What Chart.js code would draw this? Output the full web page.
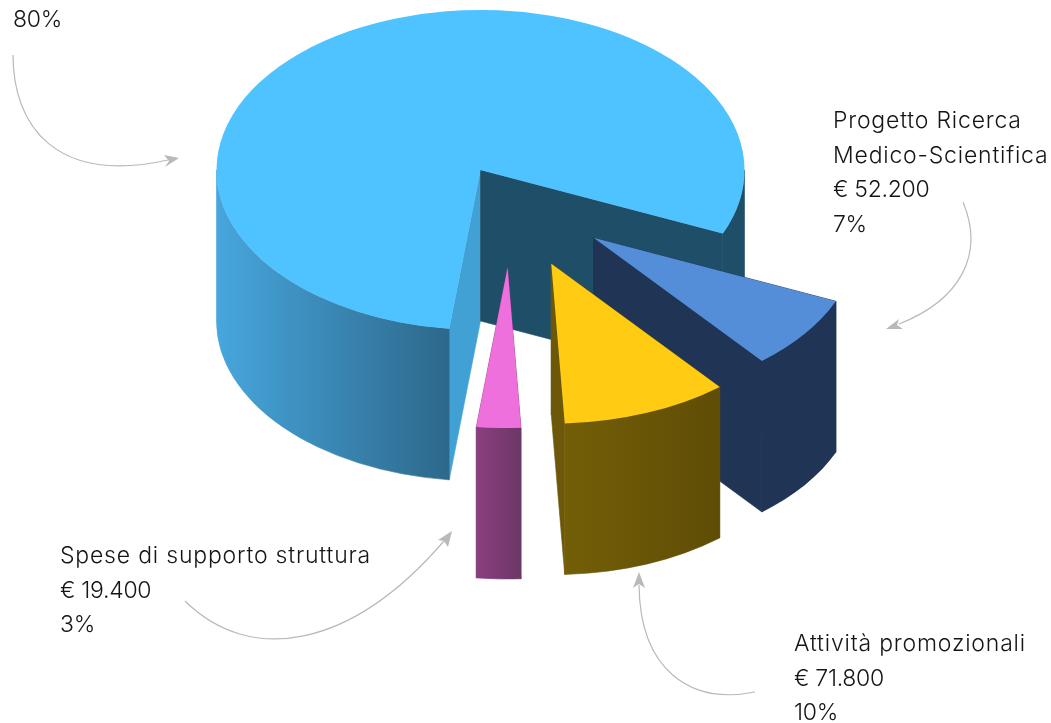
<!DOCTYPE html>
<html>
<head>
<meta charset="utf-8">
<script src="https://cdn.jsdelivr.net/npm/chart.js@4"></script>
<style>
  html, body { margin: 0; padding: 0; background: #fff; overflow: hidden; }
  #wrap { position: relative; width: 1051px; height: 723px; }
  .note { position: absolute; font-family: "Inter", sans-serif; font-weight: 300; font-size: 23px;
          line-height: 34.5px; color: #151515; white-space: nowrap; }
  .note .words { letter-spacing: 0.8px; }
  .note .nums { letter-spacing: -0.3px; }
</style>
</head>
<body>
<div id="wrap">
  <canvas id="pie" width="1051" height="723"></canvas>
</div>
<script>
// data
const categories = ['Altre spese', 'Progetto Ricerca Medico-Scientifica', 'Attività promozionali', 'Spese di supporto struttura'];
// shares as the slices are drawn in the picture, the printed figures are rounded (80, 7, 10, 3)
const sliceShares = [79.6, 7.5, 10.2, 2.7];
const noteLines = [
  ['80%'],
  ['Progetto Ricerca', 'Medico-Scientifica', '€ 52.200', '7%'],
  ['Attività promozionali', '€ 71.800', '10%'],
  ['Spese di supporto struttura', '€ 19.400', '3%']
];

// look of the slices
const topColors = ['#4FC3FF', '#548DD8', '#FFCB13', '#EE70DC'];
const wallColors = [['#47A6DD', '#2D688A'], ['#203555', '#203555'], ['#735E07', '#5F4D06'], ['#8A3F7F', '#6C3766']];
const startFaceColors = ['#42A1D4', '#203555', '#6B5708', '#8A3F7F'];
const endFaceColors = ['#1F4F68', '#203555', '#6C5808', '#8A3F7F'];
const BACK_WALL = '#1F4F68';

// where each slice is pulled out to, in px on the flat pie, and towards which direction
const explodeDist = [0, 159, 170, 164];
const explodeDir = [0, 44.7, 65.4, 80.5];

const PIE_X = 480.5, PIE_Y = 170, RX = 264, RY = 160, DEPTH = 151;

const notePos = [[13, 2], [833, 103], [794, 626], [60, 538]];
const arrows = [
  { line: 'M13 55 C13 125 55 185 168 160', head: 'M179 158 L164 155 L169 161 L165 167 Z' },
  { line: 'M963 202 C985 255 960 300 899 324', head: 'M886 329 L899 319 L897 325 L903 329 Z' },
  { line: 'M755 692 C690 705 640 670 639 585', head: 'M639 572 L633 588 L639 584 L645 588 Z' },
  { line: 'M185 601 C250 665 350 650 444 541', head: 'M452 531 L438 540 L444 541 L448 547 Z' }
];

const wrap = document.getElementById('wrap');
noteLines.forEach((lines, i) => {
  const div = document.createElement('div');
  div.className = 'note';
  div.style.left = notePos[i][0] + 'px';
  div.style.top = notePos[i][1] + 'px';
  lines.forEach((line) => {
    const row = document.createElement('div');
    row.className = /[a-z]/.test(line) ? 'words' : 'nums';
    row.textContent = line;
    div.appendChild(row);
  });
  wrap.appendChild(div);
});

function rim(ox, oy, a, drop) {
  return [ox + RX * Math.cos(a), oy + RY * Math.sin(a) + drop];
}

function paint(ctx, color) {
  // thin stroke of the same colour hides the seams between the pieces
  ctx.fillStyle = color;
  ctx.strokeStyle = color;
  ctx.lineWidth = 0.6;
  ctx.fill();
  ctx.stroke();
}

function face(ctx, ox, oy, a, color) {
  const p = rim(ox, oy, a, 0);
  ctx.beginPath();
  ctx.moveTo(ox, oy);
  ctx.lineTo(p[0], p[1]);
  ctx.lineTo(p[0], p[1] + DEPTH);
  ctx.lineTo(ox, oy + DEPTH);
  ctx.closePath();
  paint(ctx, color);
}

function outerWall(ctx, ox, oy, a0, a1, fill) {
  ctx.beginPath();
  ctx.ellipse(ox, oy, RX, RY, 0, a0, a1);
  ctx.ellipse(ox, oy + DEPTH, RX, RY, 0, a1, a0, true);
  ctx.closePath();
  paint(ctx, fill);
}

// the pie is tilted and extruded here, the top of each slice stays the library's own arc
const tiltPlugin = {
  id: 'tilt',
  beforeDatasetsDraw(chart) {
    const ctx = chart.ctx;
    const TAU = Math.PI * 2;
    chart.getDatasetMeta(0).data.forEach((arc, i) => {
      const dir = explodeDir[i] * Math.PI / 180;
      const ox = PIE_X + explodeDist[i] * Math.cos(dir) * RX / 264;
      const oy = PIE_Y + explodeDist[i] * Math.sin(dir) * RY / 264;
      let a0 = arc.startAngle, a1 = arc.endAngle;
      while (a0 < 0) { a0 += TAU; a1 += TAU; }
      while (a0 >= TAU) { a0 -= TAU; a1 -= TAU; }

      face(ctx, ox, oy, a0, startFaceColors[i]);
      face(ctx, ox, oy, a1, endFaceColors[i]);

      // only the front half of the rim can be seen
      const grad = ctx.createLinearGradient(
        Math.min(rim(ox, oy, a0, 0)[0], rim(ox, oy, Math.min(a1, Math.PI), 0)[0]), 0,
        Math.max(rim(ox, oy, a0, 0)[0], rim(ox, oy, Math.min(a1, Math.PI), 0)[0]), 0);
      grad.addColorStop(0, wallColors[i][0]);
      grad.addColorStop(1, wallColors[i][1]);
      if (a0 < Math.PI) outerWall(ctx, ox, oy, a0, Math.min(a1, Math.PI), grad);
      if (a1 > TAU) outerWall(ctx, ox, oy, TAU, a1, BACK_WALL);

      ctx.save();
      ctx.translate(ox, oy);
      ctx.scale(RX / arc.outerRadius, RY / arc.outerRadius);
      ctx.translate(-arc.x, -arc.y);
      arc.draw(ctx);
      ctx.restore();
    });
    return false;
  },
  afterDraw(chart) {
    const ctx = chart.ctx;
    ctx.save();
    ctx.strokeStyle = '#b9b9b9';
    ctx.fillStyle = '#b9b9b9';
    ctx.lineWidth = 1.2;
    arrows.forEach((a) => {
      ctx.stroke(new Path2D(a.line));
      ctx.fill(new Path2D(a.head));
    });
    ctx.restore();
  }
};

new Chart(document.getElementById('pie').getContext('2d'), {
  type: 'pie',
  data: {
    labels: categories,
    datasets: [{ data: sliceShares, backgroundColor: topColors, borderWidth: 0 }]
  },
  options: {
    responsive: false,
    animation: false,
    rotation: 186.8,
    layout: { padding: 0 },
    plugins: { legend: { display: false }, tooltip: { enabled: false } }
  },
  plugins: [tiltPlugin]
});
</script>
</body>
</html>
